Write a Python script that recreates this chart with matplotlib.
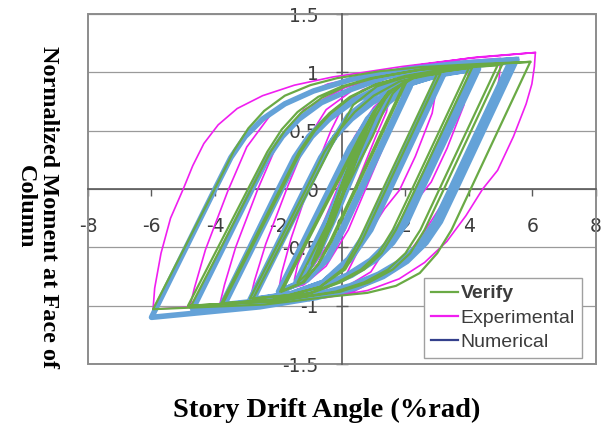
import matplotlib.pyplot as plt
from matplotlib.lines import Line2D
from matplotlib.patches import Rectangle

# hysteresis paths (drift in %rad, normalized moment)
# one line per cycle: loading branch, then unloading branch
verify_drift = [
    0, 0.25, 0.5, 0.25, 0.0, -0.25, -0.45,
    -0.15, 0.15, 0.45, 0.75, 0.4, 0.05, -0.35, -0.7,
    -0.25, 0.2, 0.6, 1.0, 0.55, 0.05, -0.45, -0.95,
    -0.3, 0.3, 0.8, 1.15, 1.5, 1.05, 0.5, -0.1, -0.7, -1.1, -1.4,
    0.11, 0.96, 1.3, 1.6, 2.0, 0.4, -0.38, -0.75, -1.2, -1.9,
    -0.24, 0.61, 1.0, 1.45, 2.05, 0.45, -0.33, -0.75, -1.25, -1.95,
    -0.29, 0.56, 1.05, 1.6, 2.25, 3.0, 1.29, 0.52, 0.05, -0.7, -1.65, -2.8,
    -1.03, -0.18, 0.35, 1.1, 2.0, 3.1, 1.39, 0.62, 0.1, -0.7, -1.7, -2.9,
    -1.13, -0.55, -0.1, 0.4, 1.0, 1.8, 2.8, 4.0,
    2.21, 1.6, 1.15, 0.6, -0.15, -1.0, -2.2, -3.75,
    -1.9, -1.3, -0.85, -0.35, 0.3, 1.1, 2.3, 4.1,
    2.31, 1.7, 1.25, 0.7, -0.05, -0.95, -2.2, -3.8,
    -1.95, -1.35, -0.9, -0.4, 0.25, 1.0, 2.0, 3.3, 4.9,
    3.07, 2.47, 2.0, 1.45, 0.7, -0.2, -2.07, -4.75,
    -2.86, -2.25, -1.8, -1.3, -0.65, 0.1, 1.0, 2.37, 5.05,
    3.21, 2.6, 2.15, 1.6, 0.85, -0.05, -2.08, -4.85,
    -2.96, -2.35, -1.9, -1.4, -0.75, 0.0, 0.9, 2.87, 5.93,
    4.05, 3.45, 3.0, 2.45, 1.7, 0.8, -0.3, -2.44, -5.95,
    -4.01, -3.4, -2.95, -2.45, -1.8, -1.0, -0.16, 1.2, 2.48, 4.2, 5.93,
]
verify_moment = [
    0, 0.19, 0.36, 0.2, 0.02, -0.17, -0.34,
    -0.16, 0.06, 0.3, 0.52, 0.33, 0.08, -0.22, -0.5,
    -0.24, 0.08, 0.4, 0.66, 0.42, 0.08, -0.3, -0.64,
    -0.3, 0.14, 0.52, 0.72, 0.84, 0.62, 0.28, -0.14, -0.55, -0.73, -0.8,
    0.0, 0.45, 0.66, 0.82, 0.93, 0.0, -0.45, -0.64, -0.8, -0.88,
    0.0, 0.45, 0.66, 0.83, 0.93, 0.0, -0.45, -0.65, -0.8, -0.88,
    0.0, 0.45, 0.68, 0.85, 0.95, 0.99, 0.0, -0.45, -0.68, -0.84, -0.91, -0.94,
    0.0, 0.45, 0.72, 0.88, 0.96, 0.99, 0.0, -0.45, -0.69, -0.84, -0.91, -0.94,
    0.0, 0.32, 0.5, 0.66, 0.8, 0.92, 0.99, 1.04,
    0.0, -0.35, -0.55, -0.69, -0.8, -0.89, -0.95, -0.98,
    0.0, 0.32, 0.5, 0.65, 0.79, 0.9, 0.98, 1.04,
    0.0, -0.35, -0.55, -0.69, -0.8, -0.89, -0.95, -0.98,
    0.0, 0.32, 0.5, 0.65, 0.79, 0.89, 0.97, 1.03, 1.06,
    0.0, -0.35, -0.55, -0.69, -0.8, -0.88, -0.96, -1.0,
    0.0, 0.32, 0.5, 0.65, 0.78, 0.88, 0.95, 1.02, 1.07,
    0.0, -0.35, -0.55, -0.69, -0.8, -0.88, -0.96, -1.0,
    0.0, 0.32, 0.51, 0.66, 0.79, 0.88, 0.95, 1.04, 1.09,
    0.0, -0.35, -0.55, -0.72, -0.83, -0.89, -0.92, -0.99, -1.03,
    0.0, 0.33, 0.52, 0.67, 0.8, 0.89, 0.95, 1.01, 1.045, 1.07, 1.09,
]

exp_drift = [
    0, 0.4, 0.75, 1.0, 0.9, 0.6, 0.0, -0.5, -0.85, -1.0,
    -0.9, -0.6, 0.0, 0.6, 1.1, 1.5, 1.4, 1.05, 0.4, -0.3, -0.9, -1.5,
    -1.4, -1.05, -0.35, 0.4, 1.0, 1.5, 2.0, 1.9, 1.55, 0.9, 0.2, -0.5, -1.2, -2.0,
    -1.9, -1.6, -0.95, -0.35, 0.05, 0.65, 1.62, 2.31, 3.0,
    2.95, 2.84, 2.31, 1.81, 1.34, 0.56, 0.14, -0.48, -1.52, -2.21, -2.9,
    -2.75, -2.4, -1.7, -1.1, -0.5, 0.4, 1.86, 2.93, 4.0,
    3.95, 3.84, 3.31, 2.81, 2.34, 1.56, 0.91, -0.06, -1.69, -2.77, -3.85,
    -3.7, -3.35, -2.65, -2.05, -1.2, 0.1, 2.08, 3.54, 5.0,
    4.95, 4.84, 4.31, 3.81, 3.34, 2.56, 1.68, 0.35, -1.86, -3.33, -4.8,
    -4.65, -4.3, -3.6, -3.0, -2.13, -0.45, 2.35, 4.22, 6.09,
    6.06, 5.98, 5.8, 5.4, 4.9, 4.43, 3.9, 3.3, 2.6, 1.8, 0.8, -0.5, -2.1, -4.03, -5.95,
    -5.9, -5.7, -5.4, -5.0, -4.7, -4.35, -3.9, -3.3, -2.5, -1.5, -0.3, 1.89, 3.99, 6.09,
]
exp_moment = [
    0, 0.3, 0.5, 0.62, 0.5, 0.3, -0.08, -0.38, -0.54, -0.6,
    -0.48, -0.3, 0.1, 0.45, 0.68, 0.8, 0.66, 0.44, 0.0, -0.42, -0.66, -0.78,
    -0.65, -0.42, 0.0, 0.45, 0.7, 0.83, 0.9, 0.76, 0.52, 0.1, -0.35, -0.66, -0.82, -0.88,
    -0.72, -0.42, 0.1, 0.5, 0.72, 0.85, 0.94, 0.98, 1.0,
    0.83, 0.65, 0.28, -0.01, -0.17, -0.5, -0.73, -0.85, -0.91, -0.94, -0.95,
    -0.78, -0.47, 0.03, 0.42, 0.68, 0.86, 0.99, 1.04, 1.07,
    0.9, 0.72, 0.35, 0.06, -0.1, -0.43, -0.71, -0.87, -0.95, -0.97, -0.99,
    -0.82, -0.5, 0.0, 0.38, 0.68, 0.87, 1.02, 1.09, 1.12,
    0.95, 0.77, 0.4, 0.11, -0.05, -0.38, -0.7, -0.88, -0.97, -1.0, -1.02,
    -0.85, -0.52, -0.02, 0.36, 0.68, 0.9, 1.06, 1.13, 1.17,
    1.05, 0.9, 0.73, 0.45, 0.16, 0.0, -0.23, -0.45, -0.63, -0.77, -0.87, -0.93, -0.97, -1.0, -1.03,
    -0.85, -0.55, -0.25, 0.0, 0.2, 0.39, 0.55, 0.69, 0.8, 0.89, 0.96, 1.05, 1.12, 1.17,
]

num_drift = [
    0, 0.25, 0.5, 0.25, 0.0, -0.25, -0.5,
    -0.2, 0.15, 0.45, 0.75, 0.4, 0.05, -0.4, -0.75,
    -0.3, 0.15, 0.6, 1.0, 0.6, 0.1, -0.45, -1.0,
    -0.35, 0.25, 0.75, 1.15, 1.5, 1.1, 0.5, -0.15, -0.75, -1.15, -1.45,
    0.0, 0.64, 1.0, 1.45, 2.1, 0.58, -0.02, -0.45, -1.1, -1.95,
    -0.35, 0.29, 0.8, 1.4, 2.15, 0.63, 0.03, -0.45, -1.1, -2.0,
    -0.4, 0.24, 0.85, 1.5, 2.2, 3.1, 1.41, 0.81, 0.2, -0.6, -1.6, -2.8,
    -1.07, -0.44, 0.2, 1.1, 2.1, 3.2, 1.51, 0.91, 0.25, -0.6, -1.65, -2.9,
    -1.17, -0.67, -0.22, 0.3, 0.95, 1.8, 2.9, 4.15,
    2.37, 1.9, 1.45, 0.9, 0.15, -0.75, -2.0, -3.7,
    -1.9, -1.4, -0.95, -0.4, 0.3, 1.2, 2.6, 4.3,
    2.52, 2.05, 1.6, 1.05, 0.3, -0.6, -1.9, -3.8,
    -2.0, -1.5, -1.05, -0.5, 0.2, 1.1, 2.3, 3.8, 5.3,
    3.42, 2.93, 2.48, 1.9, 1.15, 0.25, -0.9, -2.4, -4.7,
    -2.83, -2.33, -1.88, -1.35, -0.65, 0.25, 1.4, 3.0, 5.5,
    3.59, 3.1, 2.65, 2.05, 1.3, 0.4, -0.8, -2.59, -6.0,
    -4.0, -3.5, -3.05, -2.5, -1.8, -0.9, 0.3, 2.13, 3.8, 5.5,
]
num_moment = [
    0, 0.2, 0.38, 0.21, 0.03, -0.17, -0.36,
    -0.19, 0.07, 0.3, 0.52, 0.32, 0.07, -0.24, -0.5,
    -0.25, 0.06, 0.39, 0.66, 0.44, 0.1, -0.28, -0.64,
    -0.3, 0.1, 0.45, 0.66, 0.8, 0.6, 0.22, -0.2, -0.56, -0.73, -0.8,
    0.0, 0.35, 0.56, 0.74, 0.88, 0.0, -0.35, -0.58, -0.77, -0.88,
    0.0, 0.35, 0.6, 0.78, 0.88, 0.0, -0.35, -0.6, -0.78, -0.88,
    0.0, 0.35, 0.6, 0.79, 0.91, 0.98, 0.0, -0.35, -0.6, -0.8, -0.9, -0.95,
    0.0, 0.35, 0.63, 0.82, 0.93, 0.98, 0.0, -0.35, -0.61, -0.8, -0.9, -0.95,
    0.0, 0.27, 0.45, 0.6, 0.74, 0.87, 0.97, 1.03,
    0.0, -0.28, -0.46, -0.61, -0.74, -0.84, -0.94, -0.99,
    0.0, 0.27, 0.45, 0.6, 0.74, 0.86, 0.97, 1.03,
    0.0, -0.28, -0.46, -0.61, -0.74, -0.84, -0.94, -1.0,
    0.0, 0.27, 0.45, 0.6, 0.74, 0.86, 0.97, 1.05, 1.09,
    0.0, -0.28, -0.46, -0.61, -0.73, -0.83, -0.91, -0.98, -1.03,
    0.0, 0.27, 0.45, 0.6, 0.74, 0.85, 0.96, 1.05, 1.11,
    0.0, -0.28, -0.46, -0.62, -0.75, -0.85, -0.93, -1.01, -1.1,
    0.0, 0.27, 0.45, 0.6, 0.73, 0.84, 0.94, 1.03, 1.08, 1.11,
]

x_ticks = [-8, -6, -4, -2, 0, 2, 4, 6, 8]
x_labels = ['-8', '-6', '-4', '-2', '0', '2', '4', '6', '8']
y_ticks = [-1.5, -1, -0.5, 0, 0.5, 1, 1.5]
y_labels = ['-1.5', '-1', '-0.5', '0', '0.5', '1', '1.5']

c_verify = '#6aaa45'
c_exp = '#f01ef0'
c_num = '#64a2d8'
c_num_legend = '#34408c'

fig = plt.figure(figsize=(6.06, 4.26), dpi=100)
ax = fig.add_axes([0.1452, 0.1455, 0.8383, 0.8216])

ax.plot(exp_drift, exp_moment, color=c_exp, lw=1.2, zorder=2)
ax.plot(num_drift, num_moment, color=c_num, lw=4.0, solid_joinstyle='round', zorder=3)
ax.plot(verify_drift, verify_moment, color=c_verify, lw=1.6, zorder=4)

ax.set_xlim(-8, 8)
ax.set_ylim(-1.5, 1.5)
ax.set_xticks(x_ticks)
ax.set_xticklabels(x_labels, fontfamily='Liberation Sans')
ax.set_yticks(y_ticks)
ax.set_yticklabels(y_labels, fontfamily='Liberation Sans')

ax.spines['left'].set_position(('data', 0))
ax.spines['bottom'].set_position(('data', 0))
ax.spines['top'].set_visible(False)
ax.spines['right'].set_visible(False)
for s in ['left', 'bottom']:
    ax.spines[s].set_color('#5a5a5a')
    ax.spines[s].set_linewidth(1.2)
    ax.spines[s].set_zorder(1)

ax.tick_params(axis='x', direction='out', length=5, width=1, color='#5a5a5a',
               pad=15, labelsize=13.5, labelcolor='#3c3c3c')
ax.tick_params(axis='y', direction='inout', length=8, width=1, color='#5a5a5a',
               pad=13, labelsize=13.5, labelcolor='#3c3c3c')
ax.yaxis.grid(True, color='#9a9a9a', lw=0.9)
ax.set_axisbelow(True)

ax.add_patch(Rectangle((0, 0), 1, 1, transform=ax.transAxes, fill=False,
                       ec='#8c8c8c', lw=1.4, clip_on=False, zorder=1))

handles = [Line2D([], [], color=c_verify, lw=1.6),
           Line2D([], [], color=c_exp, lw=1.6),
           Line2D([], [], color=c_num_legend, lw=1.6)]
leg = ax.legend(handles, ['Verify', 'Experimental', 'Numerical'],
                loc='lower right', bbox_to_anchor=(0.972, 0.017),
                borderaxespad=0, fancybox=False, framealpha=1,
                edgecolor='#a0a0a0', handlelength=1.4, handletextpad=0.15,
                labelspacing=0.35, borderpad=0.35,
                prop={'family': 'Liberation Sans', 'size': 14})
leg.get_frame().set_linewidth(1.0)
leg.set_zorder(10)
for t in leg.get_texts():
    t.set_color('#3c3c3c')
leg.get_texts()[0].set_fontweight('bold')

fig.text(327 / 606, 1 - 410 / 426, 'Story Drift Angle (%rad)',
         ha='center', va='center', fontsize=20.5, fontweight='bold',
         fontfamily='Liberation Serif')
fig.text(37 / 606, 1 - 207 / 426, 'Normalized Moment at Face of\nColumn',
         ha='center', va='center', rotation=270, multialignment='center',
         linespacing=1.1, fontsize=17.5, fontweight='bold',
         fontfamily='Liberation Serif')

fig.savefig('out.png', dpi=100)
